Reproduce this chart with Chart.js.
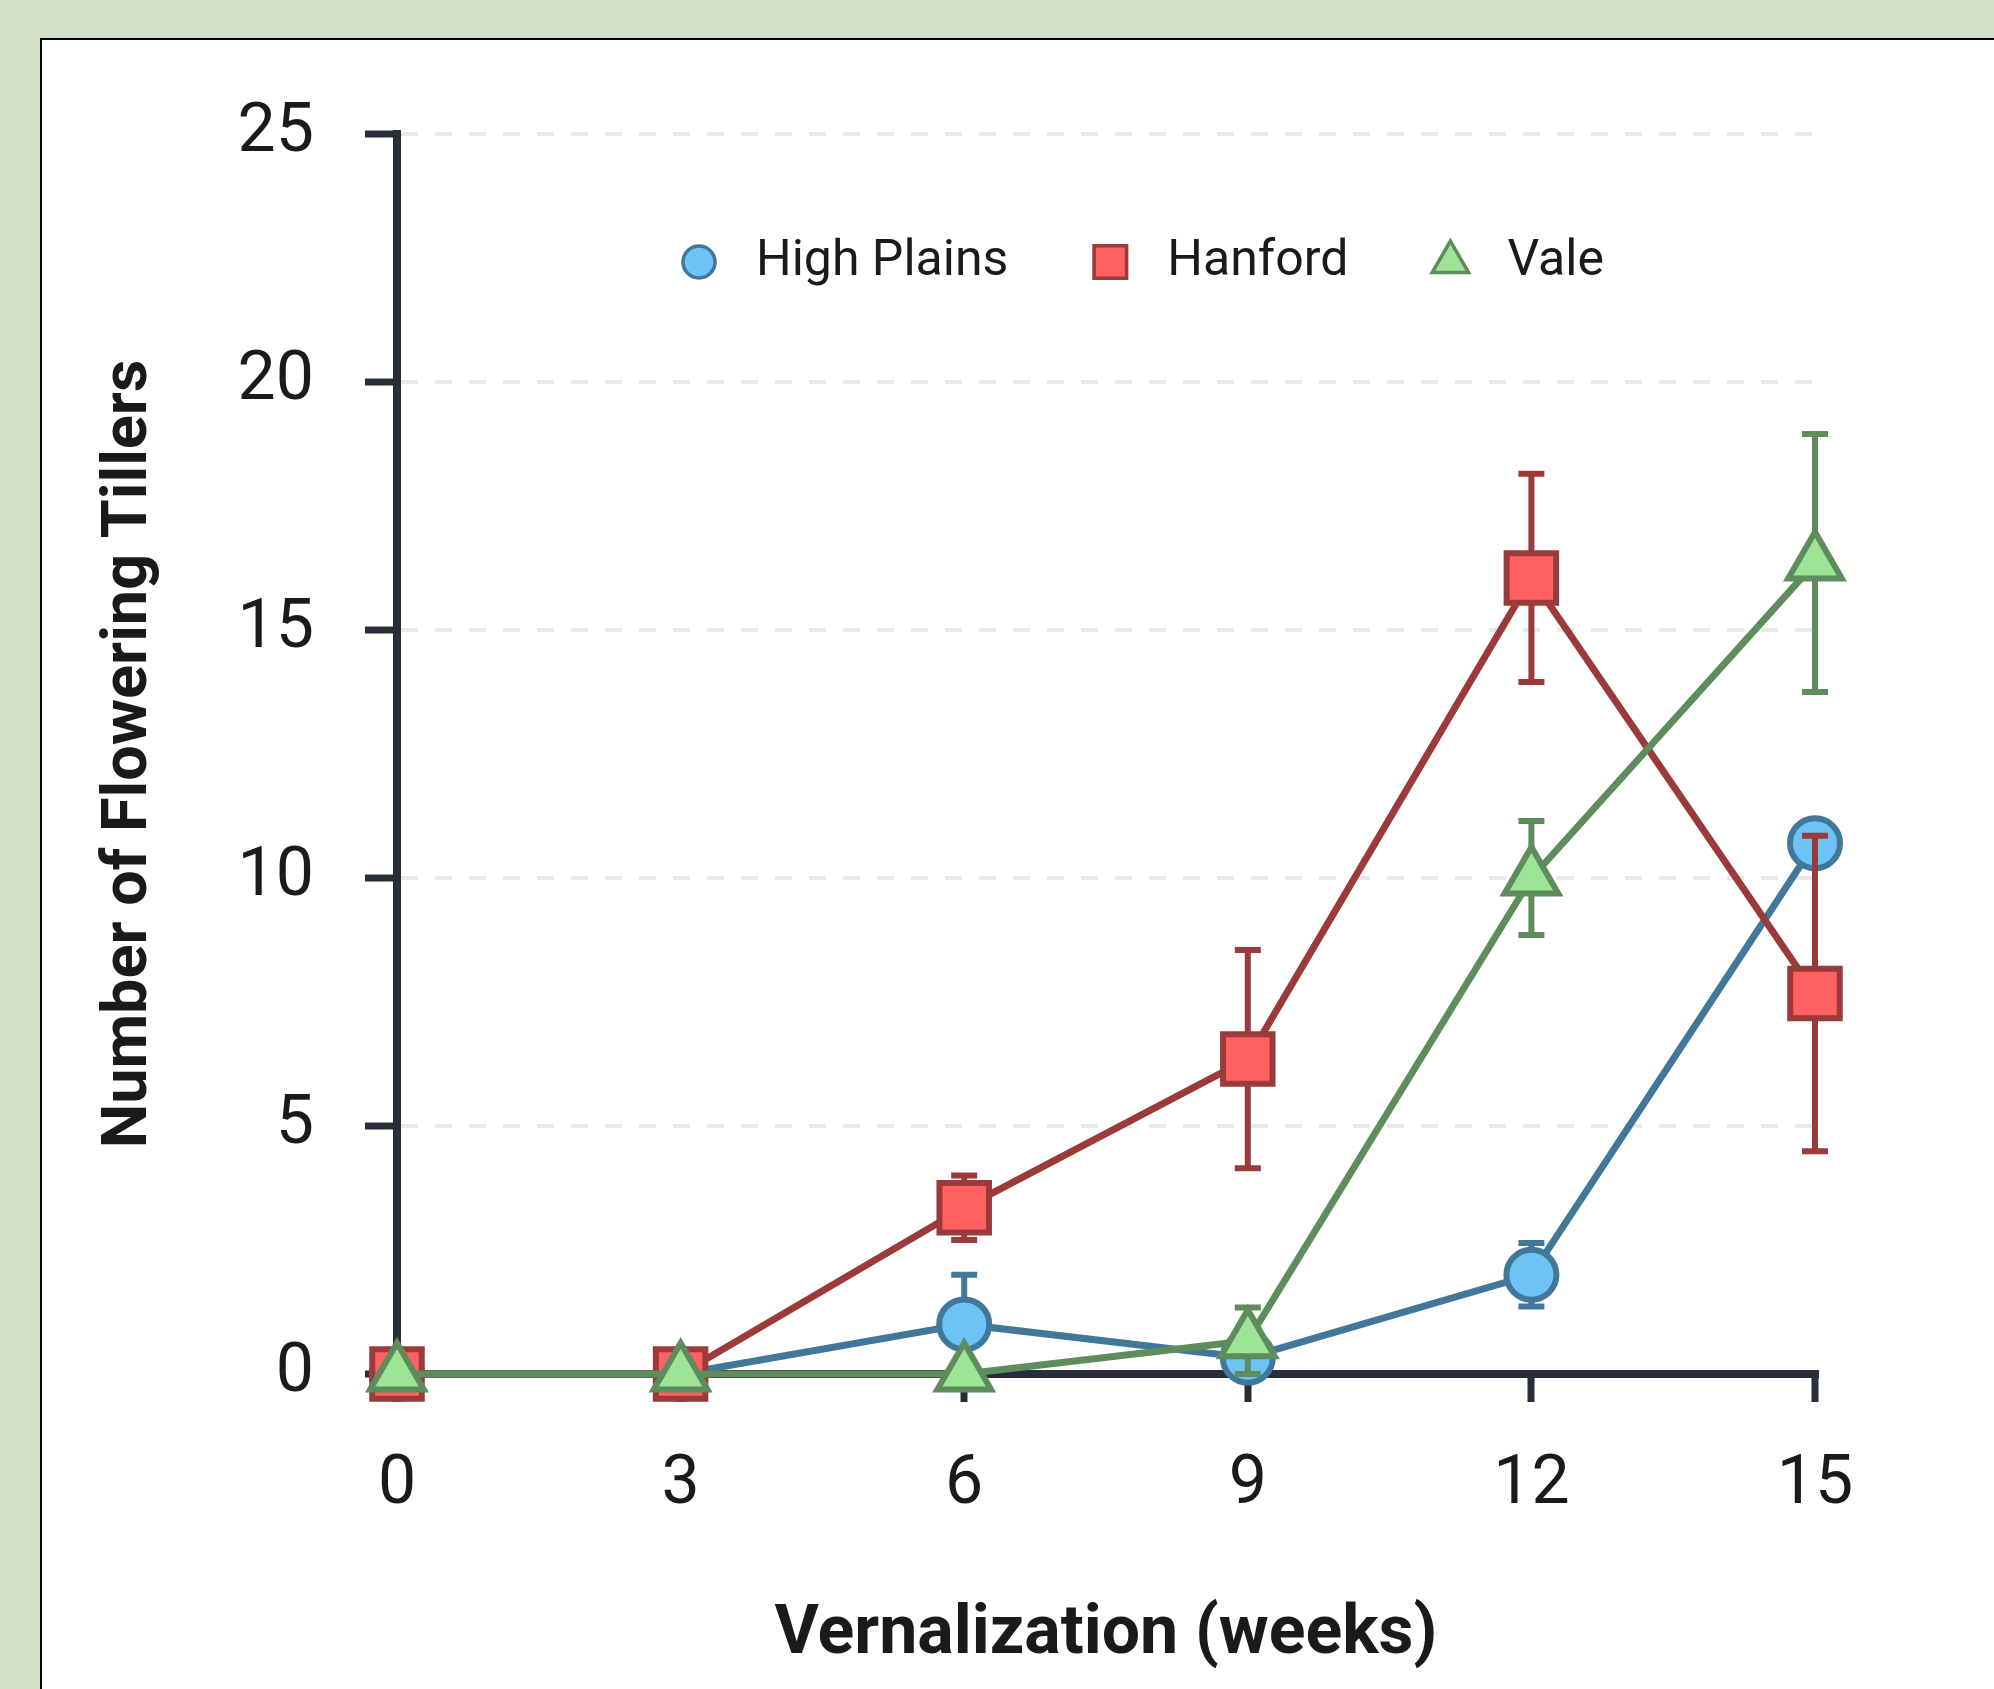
<!DOCTYPE html>
<html>
<head>
<meta charset="utf-8">
<script src="https://cdn.jsdelivr.net/npm/chart.js@4/dist/chart.umd.min.js"></script>
<style>
    html, body { margin: 0; padding: 0; overflow: hidden; background: #d3e2c9; }
    #panel {
        position: absolute;
        left: 40px;
        top: 38px;
        border: 2px solid #000;
        background: #fff;
        width: 2202px;
        height: 1690px;
    }
    #chart { display: block; }
</style>
</head>
<body>
<div id="panel">
    <canvas id="chart" width="2202" height="1690"></canvas>
</div>
<script>
// vernalization weeks
const weeks = [0, 3, 6, 9, 12, 15];

const highPlains = [0, 0, 1.0, 0.33, 2.0, 10.7];
const highPlainsErr = [0, 0, 1.0, 0.3, 0.64, 0.3];

const hanford = [0, 0, 3.35, 6.35, 16.05, 7.67];
const hanfordErr = [0, 0, 0.65, 2.2, 2.1, 3.18];

const vale = [0, 0, 0, 0.67, 10.0, 16.35];
const valeErr = [0, 0, 0, 0.67, 1.15, 2.6];

const yTicks = [0, 5, 10, 15, 20, 25];

const axisColor = "#282e37";
const textColor = "#1a1a1a";

Chart.defaults.font.family = "Roboto";

function toPoints(values) {
    return weeks.map((w, i) => ({ x: w, y: values[i] }));
}

const datasets = [
    {
        label: "High Plains",
        data: toPoints(highPlains),
        errors: highPlainsErr,
        borderColor: "#41789a",
        backgroundColor: "#6cc3f4",
        pointStyle: "circle",
        pointRadius: 25,
        legendRadius: 16,
        order: 3
    },
    {
        label: "Hanford",
        data: toPoints(hanford),
        errors: hanfordErr,
        borderColor: "#9a3a3a",
        backgroundColor: "#ff6161",
        pointStyle: "rect",
        pointRadius: 35,
        legendRadius: 23,
        order: 2
    },
    {
        label: "Vale",
        data: toPoints(vale),
        errors: valeErr,
        borderColor: "#5f8c5c",
        backgroundColor: "#9de497",
        pointStyle: "triangle",
        pointRadius: 31,
        legendRadius: 21,
        order: 1
    }
];

datasets.forEach(ds => {
    ds.borderWidth = 7;
    ds.tension = 0;
    ds.fill = false;
    ds.clip = false;
    ds.pointBorderWidth = 6;
    ds.pointBackgroundColor = ds.backgroundColor;
    ds.pointBorderColor = ds.borderColor;
    ds.pointHoverRadius = ds.pointRadius;
});

// error bars go under each series' own markers, over the series drawn before it
const errorBars = {
    id: "errorBars",
    beforeDatasetDraw(chart, args) {
        const ds = chart.data.datasets[args.index];
        const xs = chart.scales.x;
        const ys = chart.scales.y;
        const ctx = chart.ctx;
        ctx.save();
        ctx.strokeStyle = ds.borderColor;
        ctx.lineWidth = 6;
        ctx.lineCap = "butt";
        ds.data.forEach((p, i) => {
            const e = ds.errors[i];
            if (!e) return;
            const x = xs.getPixelForValue(p.x);
            const top = ys.getPixelForValue(p.y + e);
            const bot = ys.getPixelForValue(Math.max(0, p.y - e));
            ctx.beginPath();
            ctx.moveTo(x, top);
            ctx.lineTo(x, bot);
            ctx.moveTo(x - 13, top);
            ctx.lineTo(x + 13, top);
            ctx.moveTo(x - 13, bot);
            ctx.lineTo(x + 13, bot);
            ctx.stroke();
        });
        ctx.restore();
    }
};

// legend sits inside the plot, under the 25 line
const innerLegend = {
    id: "innerLegend",
    afterDraw(chart) {
        const ctx = chart.ctx;
        const area = chart.chartArea;
        const iconGap = 57;
        const itemGap = 102;
        const half = 17;
        ctx.save();
        ctx.font = "50px Roboto";
        const items = chart.data.datasets.map(ds => ({ ds: ds, w: ctx.measureText(ds.label).width }));
        let total = half + itemGap * (items.length - 1);
        items.forEach(it => { total += iconGap + it.w; });
        let x = chart.width / 2 - total / 2 + half;
        const y = area.top + 128;
        items.forEach(it => {
            ctx.fillStyle = it.ds.backgroundColor;
            ctx.strokeStyle = it.ds.borderColor;
            ctx.lineWidth = 3.5;
            Chart.helpers.drawPoint(ctx, {
                pointStyle: it.ds.pointStyle,
                radius: it.ds.legendRadius,
                borderWidth: 3.5,
                rotation: 0
            }, x, y);
            ctx.fillStyle = textColor;
            ctx.textAlign = "left";
            ctx.textBaseline = "middle";
            ctx.fillText(it.ds.label, x + iconGap, y);
            x += iconGap + it.w + itemGap;
        });
        ctx.restore();
    }
};

const options = {
    responsive: false,
    animation: false,
    events: [],
    layout: {
        padding: { top: 94, right: 429, bottom: 16, left: 0 }
    },
    plugins: {
        legend: { display: false },
        tooltip: { enabled: false }
    },
    scales: {
        x: {
            type: "linear",
            min: weeks[0],
            max: weeks[weeks.length - 1],
            ticks: {
                stepSize: 3,
                padding: 43,
                color: textColor,
                font: { size: 68 }
            },
            grid: {
                drawOnChartArea: false,
                lineWidth: 8,
                tickColor: axisColor,
                tickWidth: 7,
                tickLength: 28
            },
            border: { color: axisColor, width: 8 },
            title: {
                display: true,
                text: "Vernalization (weeks)",
                color: textColor,
                font: { size: 68, weight: "bold" },
                padding: { top: 0, bottom: 37 }
            },
            afterFit: s => { s.height = 340; }
        },
        y: {
            min: yTicks[0],
            max: yTicks[yTicks.length - 1],
            ticks: {
                stepSize: yTicks[1] - yTicks[0],
                padding: 51,
                color: textColor,
                font: { size: 68 }
            },
            grid: {
                color: "#e8e8e8",
                lineWidth: 4,
                tickColor: axisColor,
                tickWidth: 7,
                tickLength: 32,
                tickBorderDash: []
            },
            border: { color: axisColor, width: 8, dash: [17, 17] },
            title: {
                display: true,
                text: "Number of Flowering Tillers",
                color: textColor,
                font: { size: 63, weight: "bold" },
                padding: { top: 50, bottom: 0 }
            },
            afterFit: s => { s.width = 355; }
        }
    }
};

new Chart(document.getElementById("chart"), {
    type: "line",
    data: { datasets: datasets },
    options: options,
    plugins: [errorBars, innerLegend]
});
</script>
</body>
</html>
